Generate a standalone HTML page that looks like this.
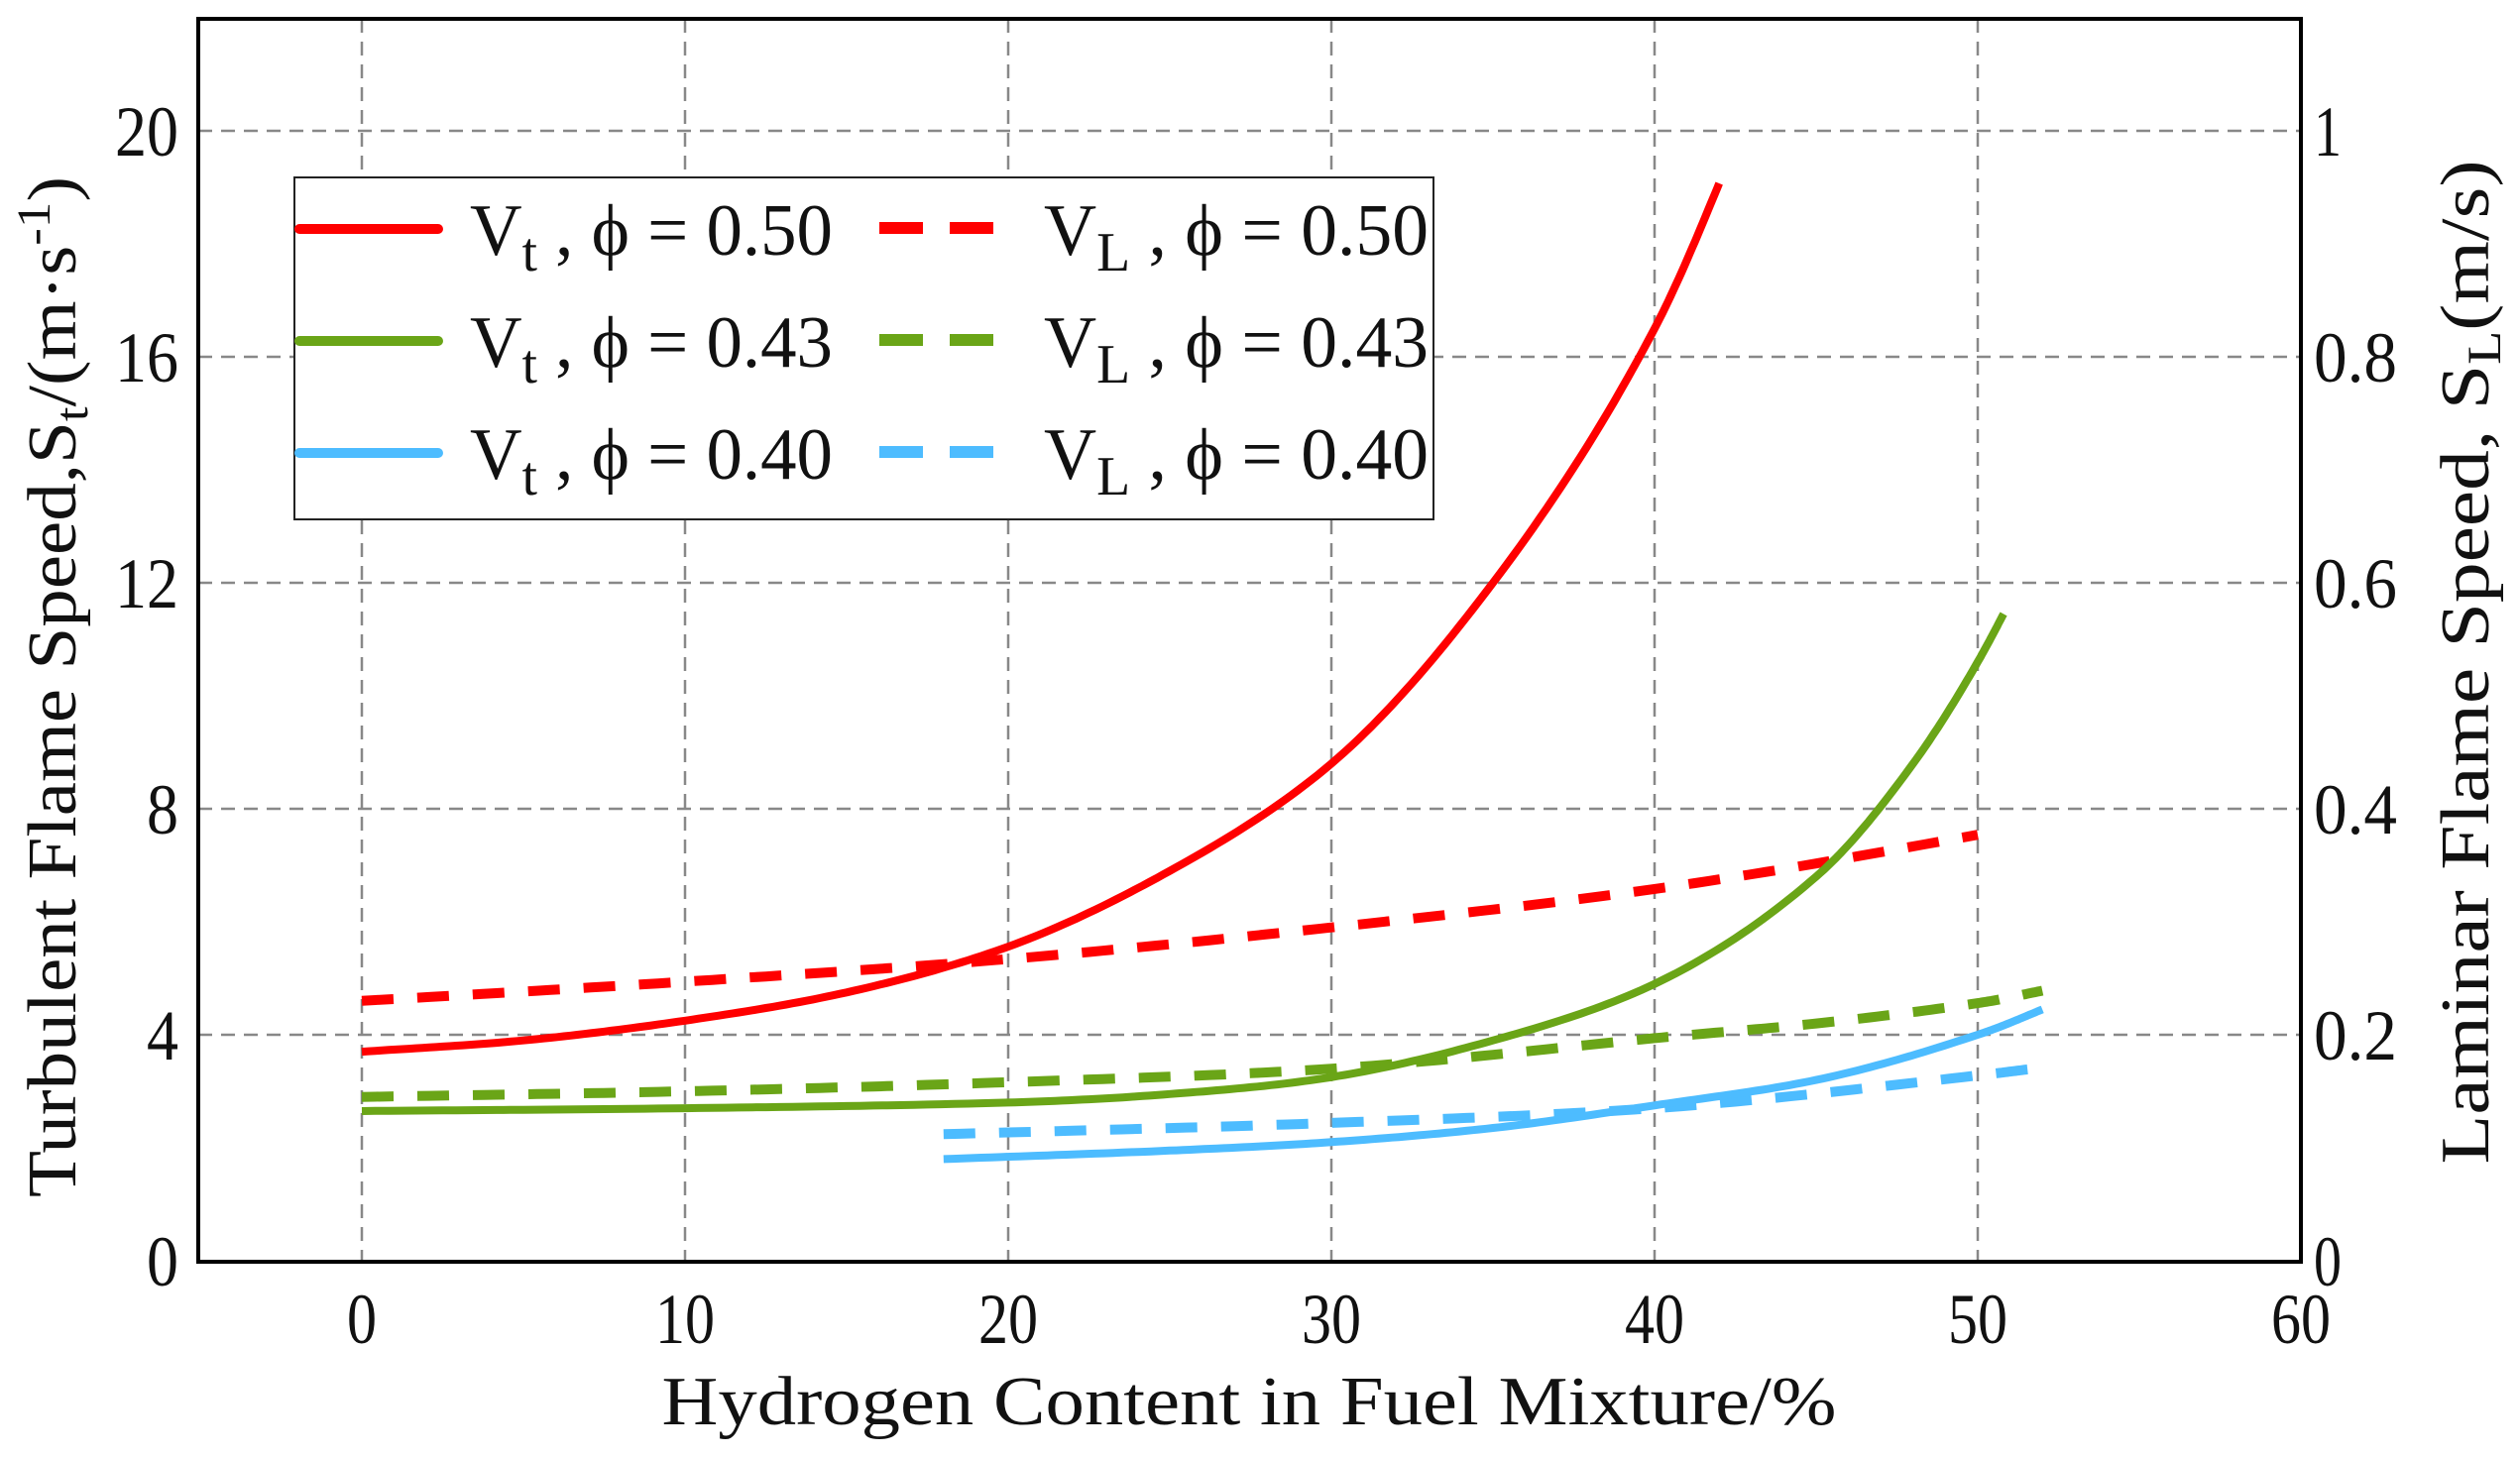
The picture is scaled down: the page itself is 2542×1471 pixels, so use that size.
<!DOCTYPE html>
<html><head><meta charset="utf-8"><style>
html,body{margin:0;padding:0;background:#fff}
svg{display:block}
text{font-family:"Liberation Serif","DejaVu Serif",serif;fill:#111}
</style></head><body>
<svg id="chart" width="2542" height="1471" viewBox="0 0 2542 1471" xmlns="http://www.w3.org/2000/svg">
<g id="grid"></g>
<g id="series"></g>
<rect x="200" y="19" width="2121" height="1254" fill="none" stroke="#000" stroke-width="4"/>
<g id="ticks"></g>
<text x="1260" y="1437" font-size="70" text-anchor="middle" textLength="1185" lengthAdjust="spacingAndGlyphs">Hydrogen Content in Fuel Mixture/%</text>
<text transform="translate(76,693) rotate(-90)" font-size="70" text-anchor="middle" textLength="1030" lengthAdjust="spacingAndGlyphs">Turbulent Flame Speed,S<tspan font-size="48" dy="12">t</tspan><tspan dy="-12">/(m·s</tspan><tspan font-size="48" dy="-26">-1</tspan><tspan dy="26">)</tspan></text>
<text transform="translate(2510,668) rotate(-90)" font-size="70" text-anchor="middle" textLength="1013" lengthAdjust="spacingAndGlyphs">Laminar Flame Speed, S<tspan font-size="48" dy="12">L</tspan><tspan dy="-12">(m/s)</tspan></text>
<g id="legend">
<rect x="297" y="179" width="1149" height="345" fill="#fff" stroke="#222" stroke-width="2"/>
</g>
</svg>
<script>
const xTicks=[0,10,20,30,40,50,60];
const yLeftTicks=[0,4,8,12,16,20];
const yRightTicks=["0","0.2","0.4","0.6","0.8","1"];
const yRightVals=[0,0.2,0.4,0.6,0.8,1];
const vt50x=[0,5,10,15,20,25,30,35,40,42];
const vt50y=[3.7,3.9,4.25,4.75,5.56,6.9,8.8,12,16.5,19.07];
const vt43x=[0,10,20,25,30,35,40,45,48,50,50.8];
const vt43y=[2.65,2.7,2.8,2.95,3.25,3.9,4.9,6.8,8.8,10.6,11.45];
const vt40x=[18,25,30,35,40,45,50,52];
const vt40y=[1.8,1.95,2.1,2.35,2.75,3.2,4.0,4.45];
const vl50x=[0,10,20,30,40,50];
const vl50y=[0.23,0.247,0.267,0.295,0.329,0.377];
const vl43x=[0,10,20,30,40,45,50,52];
const vl43y=[0.145,0.15,0.158,0.17,0.197,0.21,0.228,0.239];
const vl40x=[18,30,40,50,52];
const vl40y=[0.112,0.122,0.135,0.164,0.171];

const NS="http://www.w3.org/2000/svg";
const X=v=>365+(v)*32.6;
const YL=v=>1272-v*57;
const YR=v=>1272-v*1140;
function mk(tag,attrs,parent){const e=document.createElementNS(NS,tag);for(const k in attrs)e.setAttribute(k,attrs[k]);parent.appendChild(e);return e;}
const grid=document.getElementById('grid'),ticks=document.getElementById('ticks'),series=document.getElementById('series'),legend=document.getElementById('legend');
xTicks.forEach(t=>{
  if(t<60){const l=mk('line',{x1:X(t),x2:X(t),y1:19,y2:1272,stroke:'#888','stroke-width':2.5,'stroke-dasharray':'14 9'},grid);
  
  }
  const tx=mk('text',{x:X(t),y:1355,'font-size':72,'text-anchor':'middle',textLength:String(t).length*30,lengthAdjust:'spacingAndGlyphs'},ticks);tx.textContent=t;
  
  
});
yLeftTicks.forEach(t=>{
  if(t>0){const l=mk('line',{x1:200,x2:2321,y1:YL(t),y2:YL(t),stroke:'#888','stroke-width':2.5,'stroke-dasharray':'14 9'},grid);
  
  }
  const tx=mk('text',{x:180,y:YL(t)+25,'font-size':72,'text-anchor':'end',textLength:String(t).length*32,lengthAdjust:'spacingAndGlyphs'},ticks);tx.textContent=t;
  
  
});
yRightVals.forEach((v,i)=>{
  const tx=mk('text',{x:2334,y:YR(v)+25,'font-size':72,textLength:yRightTicks[i].length*28,lengthAdjust:'spacingAndGlyphs'},ticks);tx.textContent=yRightTicks[i];
  
  
});
// Catmull-Rom in (x, ln y) space, sampled densely
function pathFrom(xs,ys,fy){
  const n=xs.length;const L=ys.map(v=>Math.log(v));
  const tan=i=>{const a=Math.max(0,i-1),b=Math.min(n-1,i+1);return (L[b]-L[a])/(xs[b]-xs[a]);};
  let pts=[];
  for(let i=0;i<n-1;i++){
    const h=xs[i+1]-xs[i],m0=tan(i)*h,m1=tan(i+1)*h;
    for(let k=0;k<=24;k++){
      if(i>0&&k===0)continue;
      const t=k/24,t2=t*t,t3=t2*t;
      const v=(2*t3-3*t2+1)*L[i]+(t3-2*t2+t)*m0+(-2*t3+3*t2)*L[i+1]+(t3-t2)*m1;
      pts.push([X(xs[i]+t*h),fy(Math.exp(v))]);
    }
  }
  return 'M'+pts.map(p=>p[0].toFixed(1)+','+p[1].toFixed(1)).join(' L');
}
const defs=[
 [vl50x,vl50y,YR,'#ff0000',true,'vl-050'],
 [vl43x,vl43y,YR,'#6aa517',true,'vl-043'],
 [vl40x,vl40y,YR,'#4dbcff',true,'vl-040'],
 [vt50x,vt50y,YL,'#ff0000',false,'vt-050'],
 [vt43x,vt43y,YL,'#6aa517',false,'vt-043'],
 [vt40x,vt40y,YL,'#4dbcff',false,'vt-040']];
defs.forEach(s=>{
  const a={d:pathFrom(s[0],s[1],s[2]),fill:'none',stroke:s[3],'stroke-width':s[4]?10:8,'stroke-linejoin':'round'};
  if(s[4])a['stroke-dasharray']='32 24';
  const p=mk('path',a,series);
  
  
});
const leg=[['#ff0000','0.50',231],['#6aa517','0.43',344],['#4dbcff','0.40',457]];
leg.forEach(r=>{
  const l=mk('line',{x1:302,x2:442,y1:r[2],y2:r[2],stroke:r[0],'stroke-width':10,'stroke-linecap':'round'},legend);
  
  
  const d=mk('line',{x1:887,x2:1002,y1:r[2]-1,y2:r[2]-1,stroke:r[0],'stroke-width':12,'stroke-dasharray':'44 27'},legend);
  
  
  const t1=mk('text',{x:474,y:r[2]+26,'font-size':74,textLength:366,lengthAdjust:'spacingAndGlyphs'},legend);
  t1.innerHTML='V<tspan font-size="56" dy="16">t</tspan><tspan dy="-16"> , ϕ = '+r[1]+'</tspan>';
  
  
  const t2=mk('text',{x:1053,y:r[2]+26,'font-size':74,textLength:388,lengthAdjust:'spacingAndGlyphs'},legend);
  t2.innerHTML='V<tspan font-size="56" dy="16">L</tspan><tspan dy="-16"> , ϕ = '+r[1]+'</tspan>';
  
  
});
</script>
</body></html>
